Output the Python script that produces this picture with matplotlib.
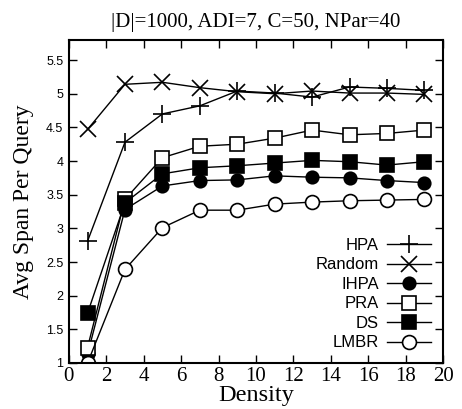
import matplotlib
matplotlib.use("Agg")
import matplotlib.pyplot as plt

density = [1, 3, 5, 7, 9, 11, 13, 15, 17, 19]
hpa = [2.81, 4.28, 4.70, 4.82, 5.04, 5.01, 4.95, 5.10, 5.08, 5.05]
rnd = [4.47, 5.14, 5.17, 5.09, 5.03, 5.00, 5.04, 5.01, 5.01, 4.99]
ihpa = [1.13, 3.28, 3.63, 3.71, 3.72, 3.78, 3.76, 3.75, 3.71, 3.68]
pra = [1.23, 3.43, 4.05, 4.22, 4.25, 4.34, 4.46, 4.39, 4.41, 4.46]
ds = [1.74, 3.38, 3.81, 3.90, 3.93, 3.97, 4.01, 3.99, 3.94, 3.99]
lmbr = [1.00, 2.39, 3.01, 3.27, 3.27, 3.36, 3.39, 3.41, 3.42, 3.43]

series = [
    ("HPA", hpa, dict(marker="+", markersize=13, mfc="black")),
    ("Random", rnd, dict(marker="x", markersize=11, mfc="black")),
    ("IHPA", ihpa, dict(marker="o", markersize=9, mfc="black")),
    ("PRA", pra, dict(marker="s", markersize=10, mfc="white")),
    ("DS", ds, dict(marker="s", markersize=10, mfc="black")),
    ("LMBR", lmbr, dict(marker="o", markersize=10, mfc="white")),
]

serif = ["Liberation Serif", "DejaVu Serif"]
sans = ["Liberation Sans", "DejaVu Sans"]

fig = plt.figure(figsize=(4.62, 4.09), dpi=100)
ax = fig.add_axes([0.149, 0.1125, 0.81, 0.79])

for name, vals, style in series:
    ax.plot(density, vals, color="black", lw=1, mec="black", mew=1.2,
            label=name, **style)

ax.set_xlim(0, 20)
ax.set_ylim(1, 5.8)
ax.set_xticks(range(0, 21, 2))
ax.set_yticks([1, 1.5, 2, 2.5, 3, 3.5, 4, 4.5, 5, 5.5])
ax.set_yticklabels(["1", "1.5", "2", "2.5", "3", "3.5", "4", "4.5", "5", "5.5"])
ax.tick_params(direction="in", top=True, right=True, length=6, width=1, pad=4)
ax.tick_params(axis="x", pad=3)
for lab in ax.get_xticklabels():
    lab.set_family(serif)
    lab.set_fontsize(15)
for lab in ax.get_yticklabels():
    lab.set_family(sans)
    lab.set_fontsize(9)
for sp in ax.spines.values():
    sp.set_linewidth(1.5)

ax.set_xlabel("Density", family=serif, fontsize=17.5, labelpad=-1)
ax.set_ylabel("Avg Span Per Query", family=serif, fontsize=17, labelpad=9)
ax.set_title("|D|=1000, ADI=7, C=50, NPar=40", family=serif, fontsize=15, pad=9)

leg = ax.legend(loc="lower right", frameon=False, markerfirst=False,
                prop={"family": sans, "size": 12}, handlelength=2.6,
                labelspacing=0.27, borderaxespad=0.35, handletextpad=0.5)

fig.savefig("out.png", dpi=100)
